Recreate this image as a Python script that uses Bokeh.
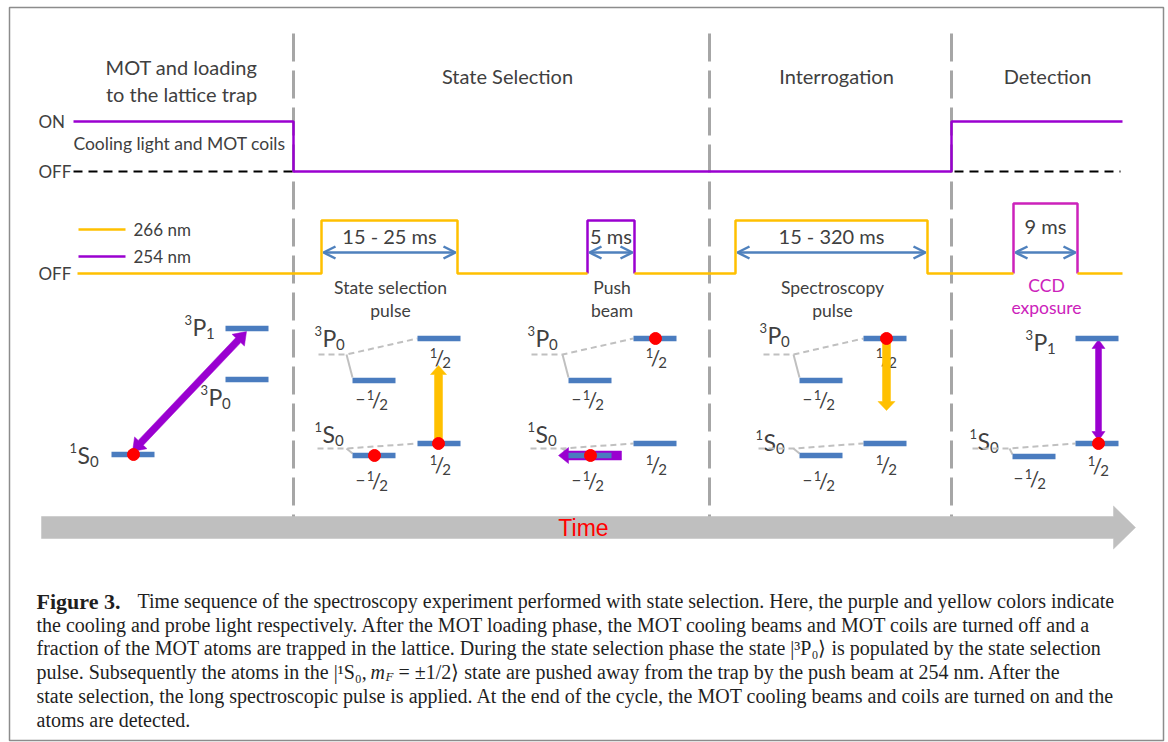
import math

from bokeh.core.properties import value
from bokeh.embed import file_html
from bokeh.models import Arrow, OpenHead, Range1d
from bokeh.plotting import figure
from bokeh.resources import INLINE

# ---------------------------------------------------------------------------
# One experimental cycle; horizontal coordinate is sketch time
# ---------------------------------------------------------------------------
t_start, t_end = 77, 1122
phase_titles = [["MOT and loading", "to the lattice trap"], ["State Selection"],
                ["Interrogation"], ["Detection"]]
phase_edges = [293, 709, 951]          # phase changes
mot_off, mot_on = 293, 951             # cooling light / MOT coils switching

pulse_labels = [["State selection", "pulse"], ["Push", "beam"],
                ["Spectroscopy", "pulse"], ["CCD", "exposure"]]
pulse_on = [321, 587, 735, 1013]
pulse_off = [457, 634, 927, 1077]
pulse_source = ["266 nm", "254 nm", "266 nm", "CCD"]
pulse_duration = ["15 - 25 ms", "5 ms", "15 - 320 ms", "9 ms"]
legend_labels = ["266 nm", "254 nm"]

caption_lines = [
    "Time sequence of the spectroscopy experiment performed with state selection. Here, the purple and yellow colors indicate",
    "the cooling and probe light respectively. After the MOT loading phase, the MOT cooling beams and MOT coils are turned off and a",
    "fraction of the MOT atoms are trapped in the lattice. During the state selection phase the state |³P₀⟩ is populated by the state selection",
    "pulse. Subsequently the atoms in the |¹S₀, ",
    "state selection, the long spectroscopic pulse is applied. At the end of the cycle, the MOT cooling beams and coils are turned on and the",
    "atoms are detected.",
]
caption_line4_tail = "= ±1/2⟩ state are pushed away from the trap by the push beam at 254 nm. After the"

# ---------------------------------------------------------------------------
INK = "#404040"
PURPLE = "#9a00d0"
YELLOW = "#ffc000"
MAGENTA = "#cc22bb"
BLUE = "#4f81bd"
BAR = "#4a7cbf"
SEP = "#a6a6a6"
ZEE = "#c0c0c0"
CAP = "#1f1f1f"
SANS = "Lato"
SERIF = "Liberation Serif"

p = figure(width=1168, height=742, x_range=Range1d(0, 1168), y_range=Range1d(742, 0),
           output_backend="svg", toolbar_location=None, min_border=0)
p.axis.visible = False
p.grid.visible = False
p.outline_line_color = None
p.background_fill_color = "white"
p.border_fill_color = "white"


def label(x, y, s, size, color=INK, font=SANS, align="center", baseline="middle", style="normal"):
    p.text(x=[x], y=[y], text=[s], text_font=value(font), text_font_size=f"{size}px",
           text_color=color, text_align=align, text_baseline=baseline, text_font_style=style)


def term(x, y, letter, sup, sub):
    """Term symbol such as ³P₀, x = left edge of the letter."""
    label(x, y, letter, 23, align="left")
    label(x - 0.5, y - 7, sup, 13, align="right")
    w = 13.5 if letter == "P" else 12.5
    label(x + w, y + 7, sub, 15, align="left")


def frac(cx, cy, neg=False):
    label(cx - 6, cy - 5, "1", 13)
    label(cx, cy, "/", 21)
    label(cx + 7, cy + 5, "2", 15)
    if neg:
        label(cx - 16, cy - 1, "−", 17)


def arrow_poly(x0, y0, x1, y1, w, hw, hl, both=False):
    L = math.hypot(x1 - x0, y1 - y0)
    ux, uy = (x1 - x0) / L, (y1 - y0) / L
    nx, ny = -uy, ux
    if both:
        pts = [(hl, w / 2), (L - hl, w / 2), (L - hl, hw / 2), (L, 0), (L - hl, -hw / 2),
               (L - hl, -w / 2), (hl, -w / 2), (hl, -hw / 2), (0, 0), (hl, hw / 2)]
    else:
        pts = [(0, w / 2), (L - hl, w / 2), (L - hl, hw / 2), (L, 0), (L - hl, -hw / 2),
               (L - hl, -w / 2), (0, -w / 2)]
    xs = [x0 + a * ux + c * nx for a, c in pts]
    ys = [y0 + a * uy + c * ny for a, c in pts]
    return xs, ys


def fat_arrow(x0, y0, x1, y1, w, hw, hl, color, both=False):
    xs, ys = arrow_poly(x0, y0, x1, y1, w, hw, hl, both)
    p.patch(xs, ys, fill_color=color, line_color=color, line_width=0.5)


# frame around figure and caption
p.quad(left=9, right=1163, top=7, bottom=740, fill_color=None, line_color="#8c8c8c", line_width=1.5)

# time arrow
fat_arrow(41, 527, 1135, 527, 22, 43, 22, "#bfbfbf")
label(583, 527, "Time", 23, color="#ff0000", font="Liberation Sans")

# phase separators
p.segment(x0=phase_edges, y0=[33] * 3, x1=phase_edges, y1=[516] * 3,
          line_color=SEP, line_width=3, line_dash="28 9")

# phase titles
title_x = [181, 507, 836, 1047]
for tx, lines in zip(title_x, phase_titles):
    if len(lines) == 2:
        label(tx, 66, lines[0], 20)
        label(tx, 93, lines[1], 20)
    else:
        label(tx, 75, lines[0], 20)

# cooling light and MOT coils trace
ON_Y, OFF_Y = 121, 171
label(38, ON_Y, "ON", 17, align="left")
label(38, OFF_Y, "OFF", 17, align="left")
p.segment(x0=[73, mot_on + 3], y0=[OFF_Y, OFF_Y], x1=[mot_off, 1120], y1=[OFF_Y, OFF_Y],
          line_color="black", line_width=2, line_dash="9 6")
p.line([73, mot_off, mot_off, mot_on, mot_on, t_end], [ON_Y, ON_Y, OFF_Y, OFF_Y, ON_Y, ON_Y],
       line_color=PURPLE, line_width=2.5)
label(179, 143, "Cooling light and MOT coils", 17.5)

# laser pulse trace
BASE_Y, HIGH_Y, CCD_Y = 273, 220, 203
label(38, BASE_Y, "OFF", 17, align="left")
leg_y = [229, 256]
for ly, txt, col in zip(leg_y, legend_labels, [YELLOW, PURPLE]):
    p.line([78, 125], [ly, ly], line_color=col, line_width=2.5)
    label(133, ly, txt, 17, align="left")

seg_x, seg_y = [t_start], [BASE_Y]
yellow_xs, yellow_ys = [], []
for on, off, src in zip(pulse_on, pulse_off, pulse_source):
    if src == "266 nm":
        seg_x += [on, on, off, off]
        seg_y += [BASE_Y, HIGH_Y, HIGH_Y, BASE_Y]
    else:
        seg_x.append(on)
        seg_y.append(BASE_Y)
        yellow_xs.append(seg_x)
        yellow_ys.append(seg_y)
        seg_x, seg_y = [off], [BASE_Y]
        top = HIGH_Y if src == "254 nm" else CCD_Y
        col = PURPLE if src == "254 nm" else MAGENTA
        p.line([on, on, off, off], [BASE_Y, top, top, BASE_Y], line_color=col, line_width=2.5)
seg_x.append(t_end)
seg_y.append(BASE_Y)
yellow_xs.append(seg_x)
yellow_ys.append(seg_y)
p.multi_line(yellow_xs, yellow_ys, line_color=YELLOW, line_width=2.5)

# durations and pulse names
for on, off, src, dur, names in zip(pulse_on, pulse_off, pulse_source, pulse_duration, pulse_labels):
    mid = (on + off) / 2
    p.add_layout(Arrow(start=OpenHead(size=12, line_color=BLUE, line_width=2.5),
                       end=OpenHead(size=12, line_color=BLUE, line_width=2.5),
                       x_start=on + 2, y_start=252, x_end=off - 2, y_end=252,
                       line_color=BLUE, line_width=2.5))
    ccd = src == "CCD"
    label(mid, 225 if ccd else 235, dur, 20)
    col = MAGENTA if ccd else INK
    label(mid + (1 if ccd else 1), 285 if ccd else 287, names[0], 17.5, color=col)
    label(mid + (1 if ccd else 1), 307 if ccd else 310, names[1], 17.5, color=col)

# ---------------------------------------------------------------------------
# energy level sketches
# ---------------------------------------------------------------------------
BW = 43
bars_x0, bars_y = [], []
dots_x, dots_y = [], []


def bar(x, y):
    bars_x0.append(x)
    bars_y.append(y)


def zeeman(x_from, kink, y_h, xp, yp, xm, ym):
    p.line([x_from, kink, xp], [y_h, y_h, yp], line_color=ZEE, line_width=2, line_dash="6 4")
    p.line([kink, xm], [y_h, ym], line_color=ZEE, line_width=2)


# MOT loading: 1S0 -> 3P1 cooling transition
bar(225, 328)
bar(225, 379)
bar(111, 454)
term(192, 326, "P", "3", "1")
term(208, 396, "P", "3", "0")
term(77, 454, "S", "1", "0")
fat_arrow(132, 451, 246, 331, 7, 17, 12, PURPLE, both=True)
dots_x.append(133)
dots_y.append(454)

# split manifolds: (x_label_P, y_P, x_label_S, y_S, x_minus, x_plus)
panels = [(322, 337, 322, 433, 352, 417),
          (535, 337, 535, 433, 568, 633),
          (767, 334, 763, 441, 799, 863)]
for (xP, yP, xS, yS, xm, xp) in panels:
    bar(xp, 338)
    bar(xm, 380)
    bar(xp, 443)
    bar(xm, 455)
    term(xP, yP, "P", "3", "0")
    term(xS, yS, "S", "1", "0")
    zeeman(xP - 4, xm - 6, 354, xp, 338, xm, 377)
    zeeman(xS - 5, xm - 6, 448, xp, 443, xm, 453)
    frac(xp + 22, 357)
    frac(xm + 24, 399, neg=True)
    frac(xp + 22, 464)
    frac(xm + 24, 480, neg=True)

# state selection: atoms in -1/2 and +1/2, +1/2 excited to 3P0
fat_arrow(438, 443, 438, 365, 8, 16, 9, YELLOW)
dots_x += [374, 438]
dots_y += [455, 443]
# push beam removes the remaining ground state atoms
fat_arrow(621, 455, 558, 455, 9, 16, 10, PURPLE)
dots_x += [655, 590]
dots_y += [338, 455]
# spectroscopy pulse brings them back to 1S0
fat_arrow(886, 340, 886, 410, 8, 17, 9, YELLOW)
dots_x.append(886)
dots_y.append(338)

# detection on the 1S0 - 3P1 line
bar(1075, 338)
bar(1075, 443)
bar(1012, 456)
term(1033, 341, "P", "3", "1")
term(977, 440, "S", "1", "0")
zeeman(972, 1009, 448, 1075, 443, 1012, 454)
frac(1097, 465)
frac(1034, 478, neg=True)
fat_arrow(1098, 440, 1098, 339, 6, 13, 9, PURPLE, both=True)
dots_x.append(1098)
dots_y.append(443)

p.segment(x0=bars_x0, y0=bars_y, x1=[x + BW for x in bars_x0], y1=bars_y,
          line_color=BAR, line_width=5.5)
p.scatter(dots_x, dots_y, size=12, fill_color="#ff0000", line_color="#ff0000")

# ---------------------------------------------------------------------------
# caption
# ---------------------------------------------------------------------------
FS = 20
base = [600.5, 624.5, 647.5, 671.5, 695.5, 719.5]


def cap(x, y, s, size=FS, style="normal"):
    label(x, y, s, size, color=CAP, font=SERIF, align="left", baseline="alphabetic", style=style)


cap(36, base[0], "Figure 3.", 22, style="bold")
cap(137, base[0], caption_lines[0])
for i in (1, 2, 3, 4, 5):
    cap(36, base[i], caption_lines[i])
cap(370, base[3], "m", style="italic")
cap(385, base[3] + 4, "F", 13, style="italic")
cap(398, base[3], caption_line4_tail)

open("out.html", "w").write(file_html(p, INLINE))
